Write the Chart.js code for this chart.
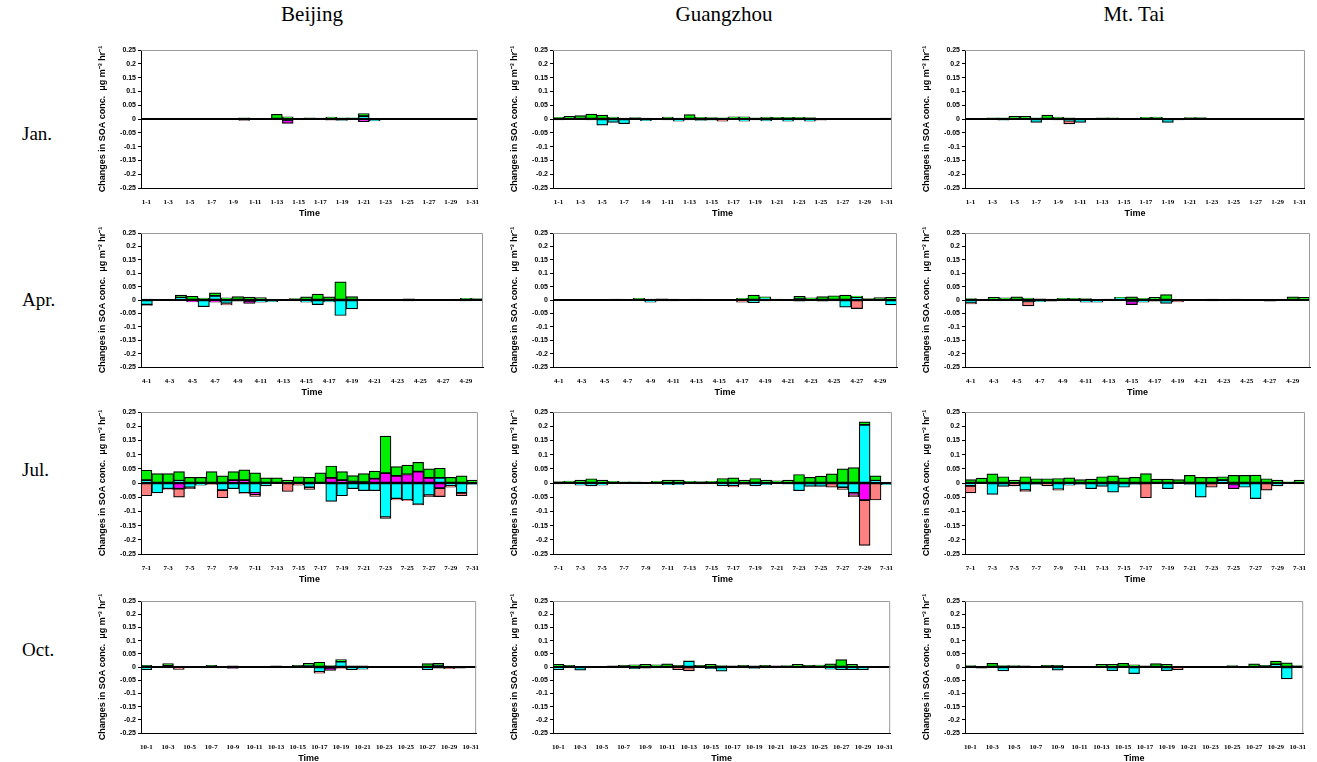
<!DOCTYPE html>
<html>
<head>
<meta charset="utf-8">
<script src="https://cdn.jsdelivr.net/npm/chart.js@4"></script>
<style>
  body { margin: 0; background: #fff; width: 1317px; height: 762px; position: relative; overflow: hidden; }
  canvas { position: absolute; }
  .lbl { position: absolute; font-family: "Liberation Serif", serif; color: #000; white-space: nowrap; }
  .col { font-size: 21px; transform: translateX(-50%); top: 2px; }
  .row { font-size: 19px; left: 22px; }
</style>
</head>
<body>
<div class="lbl col" style="left:312px">Beijing</div>
<div class="lbl col" style="left:724px">Guangzhou</div>
<div class="lbl col" style="left:1134px">Mt. Tai</div>
<div class="lbl row" style="top:123px">Jan.</div>
<div class="lbl row" style="top:289px">Apr.</div>
<div class="lbl row" style="top:459px">Jul.</div>
<div class="lbl row" style="top:639px">Oct.</div>

<script>
// day labels
const janDays = ['1-1','1-2','1-3','1-4','1-5','1-6','1-7','1-8','1-9','1-10','1-11','1-12','1-13','1-14','1-15','1-16','1-17','1-18','1-19','1-20','1-21','1-22','1-23','1-24','1-25','1-26','1-27','1-28','1-29','1-30','1-31'];
const aprDays = ['4-1','4-2','4-3','4-4','4-5','4-6','4-7','4-8','4-9','4-10','4-11','4-12','4-13','4-14','4-15','4-16','4-17','4-18','4-19','4-20','4-21','4-22','4-23','4-24','4-25','4-26','4-27','4-28','4-29','4-30'];
const julDays = ['7-1','7-2','7-3','7-4','7-5','7-6','7-7','7-8','7-9','7-10','7-11','7-12','7-13','7-14','7-15','7-16','7-17','7-18','7-19','7-20','7-21','7-22','7-23','7-24','7-25','7-26','7-27','7-28','7-29','7-30','7-31'];
const octDays = ['10-1','10-2','10-3','10-4','10-5','10-6','10-7','10-8','10-9','10-10','10-11','10-12','10-13','10-14','10-15','10-16','10-17','10-18','10-19','10-20','10-21','10-22','10-23','10-24','10-25','10-26','10-27','10-28','10-29','10-30','10-31'];

// Beijing
const bjJanGreen   = [0.002,0.001,0.002,0.002,0.002,0.001,0.002,0.002,0.002,0.004,0.001,0.002,0.017,0.008,0.002,0.004,0.003,0.007,0.004,0.004,0.010,0.002,0.001,0.001,0.002,0.002,0.002,0.001,0.001,0.001,0.001];
const bjJanCyan    = [0,0,0,0,0,0,0,0,0,-0.002,0,0,0,-0.004,-0.002,0,0,-0.002,-0.005,0,0.010,-0.007,0,0,0,0,0,0,0,0,0];
const bjJanMagenta = [0,0,0,0,0,0,0,0,0,0,0,0,0,-0.012,0,0,0,0,0,0,-0.010,0,0,0,0,0,0,0,0,0,0];
const bjJanSalmon  = [0,0,0,0,0,0,0,0,0,-0.003,0,0,0,0,0,0,0,-0.002,0,0,0,0,0,0,0,0,0,0,0,0,0];

const bjAprGreen   = [0.003,0.001,0.001,0.008,0.014,0.007,0.012,0.008,0.013,0.011,0.009,0.002,0.001,0.005,0.012,0.022,0.012,0.068,0.013,0.001,0.001,0.001,0.001,0.004,0.001,0.001,0.001,0.001,0.006,0.005];
const bjAprCyan    = [-0.017,0,0,0.010,-0.003,-0.025,0.015,-0.013,-0.004,-0.003,-0.008,-0.006,0,0,-0.008,-0.017,-0.007,-0.058,-0.033,0,0,0,0,-0.003,0,0,0,0,-0.003,-0.002];
const bjAprMagenta = [0,0,0,0,-0.004,0,-0.008,0,0,-0.010,0,0,0,0,0,0,0,0,0,0,0,0,0,0,0,0,0,0,0,0];
const bjAprSalmon  = [-0.003,0,0,0,0,0,0,-0.005,0,0,0,0,0,0,0,0,0,0,0,0,0,0,0,0,0,0,0,0,0,0];

const bjJulGreen   = [0.035,0.033,0.033,0.032,0.020,0.020,0.040,0.025,0.030,0.036,0.036,0.018,0.018,0.010,0.022,0.020,0.036,0.042,0.030,0.021,0.030,0.027,0.130,0.033,0.033,0.033,0.032,0.034,0.020,0.025,0.010];
const bjJulCyan    = [0.010,-0.035,-0.020,0.008,-0.015,-0.008,-0.003,-0.025,-0.020,-0.035,-0.035,-0.010,0,0,-0.003,-0.015,-0.003,-0.065,-0.045,-0.020,-0.027,-0.027,-0.120,-0.055,-0.060,-0.075,-0.043,0.018,-0.010,-0.035,-0.005];
const bjJulMagenta = [0,0,0,-0.020,0,0,0,0,0.010,0.010,-0.005,0,0,0,0,0,0,0.018,0.010,0.005,0.003,0.015,0.035,0.025,0.030,0.040,0.018,-0.018,0,0,0];
const bjJulSalmon  = [-0.045,0,-0.003,-0.030,-0.005,0,-0.002,-0.027,0,-0.002,-0.007,0,0,-0.030,-0.005,-0.008,0,0,0,0,0,0,-0.005,-0.005,-0.002,-0.002,-0.005,-0.030,-0.005,-0.010,0];

const bjOctGreen   = [0.006,0.003,0.009,0.001,0.001,0.002,0.006,0.001,0.004,0.002,0.001,0.002,0.004,0.002,0.006,0.008,0.018,0.005,0.008,0.004,0.004,0.001,0.001,0.001,0.001,0.001,0.013,0.009,0.003,0.003,0.002];
const bjOctCyan    = [-0.010,0,0.004,-0.003,0,0,0,0,-0.002,0,0,0,0,0,0,0.006,-0.018,-0.003,0.020,-0.010,-0.008,0,0,0,0,0,-0.010,0.005,-0.002,-0.004,0];
const bjOctMagenta = [0,0,0,0,0,0,0,0,-0.003,0,0,0,0,0,0,0,0,-0.010,-0.003,0,0,0,0,0,0,0,0,-0.004,0,0,0];
const bjOctSalmon  = [0,0,0,-0.006,0,0,-0.002,0,0,0,0,0,-0.002,0,0,0,-0.005,0,-0.002,0,0,0,0,0,0,0,0,0,-0.004,0,0];

// Guangzhou
const gzJanGreen   = [0.006,0.010,0.012,0.018,0.014,0.007,0.003,0.005,0.003,0.002,0.007,0.003,0.016,0.006,0.005,0.004,0.008,0.008,0.004,0.007,0.006,0.006,0.006,0.005,0.002,0.001,0.001,0.001,0.001,0.001,0.003];
const gzJanCyan    = [-0.003,0,0,-0.003,-0.022,-0.012,-0.017,0,-0.006,0,-0.003,-0.008,-0.003,-0.005,-0.004,0,0,-0.008,-0.003,-0.007,-0.002,-0.008,-0.003,-0.008,0,0,0,0,0,0,0];
const gzJanMagenta = [0,0,0,0,0,0,0,0,0,0,0,0,0,0,0,0,0,0,0,0,0,0,0,0,0,0,0,0,0,0,0];
const gzJanSalmon  = [0,0,0,0,0,0,0,0,0,0,0,0,0,0,0,-0.008,0,0,0,0,0,0,0,0,-0.004,0,0,-0.002,0,0,0];

const gzAprGreen   = [0.001,0.001,0.001,0.001,0.002,0.003,0.002,0.006,0.003,0.004,0.003,0.001,0.003,0.001,0.001,0.002,0.006,0.018,0.004,0.003,0.002,0.009,0.008,0.013,0.016,0.018,0.005,0.005,0.009,0.010];
const gzAprCyan    = [0,0,0,0,0,0,0,0,-0.008,-0.003,-0.003,0,0,0,0,0,0,-0.010,0.008,0,0,0.005,0,-0.004,-0.003,-0.027,0.010,0,0,-0.018];
const gzAprMagenta = [0,0,0,0,0,0,0,0,0,0,0,0,0,0,0,0,0,0,0,0,0,0,0,0,0,0,0,0,0,0];
const gzAprSalmon  = [0,0,0,0,0,0,0,0,0,0,0,0,0,0,0,0,-0.008,0,-0.003,0,0,-0.004,0,0,0,0,-0.032,0,0,0];

const gzJulGreen   = [0.005,0.007,0.010,0.015,0.010,0.006,0.004,0.004,0.003,0.006,0.010,0.010,0.006,0.005,0.006,0.016,0.018,0.010,0.016,0.010,0.008,0.010,0.030,0.020,0.024,0.032,0.050,0.054,0.010,0.017,0.002];
const gzJulCyan    = [-0.003,0,-0.008,-0.010,-0.008,0,0,0,0,0,-0.006,-0.006,0,0,0,-0.010,-0.010,0,-0.010,-0.006,0,-0.004,-0.027,-0.012,-0.012,0,-0.015,-0.035,0.205,0.008,-0.006];
const gzJulMagenta = [0,0,0,0,0,0,0,0,0,0,0,0,0,0,0,0,0,0,0,0,0,0,0,0,0,0,0,-0.008,-0.060,0,0];
const gzJulSalmon  = [0,0,0,0,0,0,0,0,0,0,0,0,0,-0.003,0,0,-0.004,-0.005,0,0,0,0,0,0,0,-0.015,-0.008,-0.005,-0.160,-0.060,0];

const gzOctGreen   = [0.010,0.006,0.001,0.002,0.001,0.004,0.006,0.008,0.010,0.008,0.012,0.006,0.001,0.006,0.010,0.005,0.004,0.006,0.004,0.006,0.004,0.005,0.010,0.006,0.007,0.012,0.028,0.010,0.002,0.001,0.003];
const gzOctCyan    = [-0.010,-0.003,-0.012,0,0,0,0,-0.006,-0.004,0,0,0,0.022,0,-0.006,-0.016,-0.002,0,-0.005,0,0,0,0,0,0,-0.008,-0.010,-0.010,-0.010,-0.003,0];
const gzOctMagenta = [0,0,0,0,0,0,0,0,0,0,0,0,0,0,0,0,0,0,0,0,0,0,0,0,0,0,0,0,0,0,0];
const gzOctSalmon  = [0,0,0,0,0,0,0,0,0,-0.003,0,-0.010,-0.015,0,0,0,0,0,0,0,0,0,0,0,0,0,0,0,0,0,0];

// Mt. Tai
const mtJanGreen   = [0.001,0.002,0.004,0.004,0.010,0.010,0.004,0.014,0.007,0.004,0.001,0.001,0.004,0.004,0.001,0.002,0.006,0.007,0.001,0.002,0.005,0.005,0.002,0.001,0.001,0.001,0.001,0.001,0.001,0.001,0.001];
const mtJanCyan    = [0,0,0,-0.004,0,0,-0.012,0,-0.003,-0.006,-0.012,0,0,0,0,0,0,0,-0.012,-0.003,0,-0.002,0,0,-0.002,0,-0.002,-0.002,-0.002,0,0];
const mtJanMagenta = [0,0,0,0,0,0,0,0,0,0,0,0,0,0,0,0,0,0,0,0,0,0,0,0,0,0,0,0,0,0,0];
const mtJanSalmon  = [0,0,0,0,0,0,0,0,0,-0.012,0,0,0,0,0,0,0,0,0,0,0,0,0,0,0,0,0,0,0,0,0];

const mtAprGreen   = [0.005,0.002,0.010,0.008,0.012,0.007,0.004,0.003,0.006,0.006,0.005,0.001,0.003,0.002,0.012,0.006,0.010,0.020,0.001,0.001,0.001,0.003,0.001,0.003,0.001,0.002,0.001,0.001,0.012,0.010];
const mtAprCyan    = [-0.012,0,0,0,0,-0.005,-0.006,-0.004,0,0,-0.008,-0.008,0,0.008,-0.005,-0.008,-0.004,-0.013,0,0,0,-0.003,0,-0.002,0,0,-0.004,0,0,0];
const mtAprMagenta = [0,0,0,0,0,0,0,0,0,0,0,0,0,0,-0.012,0,0,0,0,0,0,0,0,0,0,0,0,0,0,0];
const mtAprSalmon  = [-0.003,0,0,0,0,-0.017,0,0,0,0,0,0,0,0,0,0,0,0,-0.007,0,0,0,0,0,0,0,0,0,0,0];

const mtJulGreen   = [0.012,0.017,0.032,0.022,0.010,0.022,0.015,0.015,0.016,0.018,0.012,0.014,0.022,0.022,0.018,0.020,0.033,0.014,0.014,0.012,0.027,0.020,0.020,0.012,0.027,0.027,0.028,0.015,0.010,0.004,0.010];
const mtJulCyan    = [-0.010,0,-0.040,-0.012,0,-0.025,-0.005,0,-0.022,-0.008,-0.005,-0.020,-0.012,-0.032,-0.015,-0.005,0,-0.003,-0.020,0,-0.005,-0.050,0,0.010,-0.005,-0.015,-0.055,0,-0.010,0,-0.003];
const mtJulMagenta = [0,0,0,0,0,0,0,0,0,0,0,0,0,0.003,0,0,0,0,0,0,0,0,0,0,-0.015,0,0,0,0,0,0];
const mtJulSalmon  = [-0.025,0,0,0,-0.010,-0.005,0,-0.010,-0.003,0,0,0,0,0,0,0,-0.052,0,0,0,0,0,-0.015,0,0,0,0,-0.025,0,0,0];

const mtOctGreen   = [0.005,0.003,0.014,0.005,0.005,0.004,0.003,0.006,0.006,0.002,0.001,0.003,0.010,0.010,0.014,0.008,0.004,0.013,0.010,0.001,0.001,0.001,0.001,0.001,0.005,0.001,0.012,0.006,0.012,0.016,0.005];
const mtOctCyan    = [-0.002,-0.004,0,-0.015,0,0,0,-0.003,-0.012,-0.003,0,0,0,-0.014,0,-0.025,0,0,-0.014,0,0,0,0,0,-0.003,-0.003,0,-0.003,0.010,-0.045,-0.002];
const mtOctMagenta = [0,0,0,0,0,0,0,0,0,0,0,0,0,0,0,0,0,0,0,0,0,0,0,0,0,0,0,0,0,0,0];
const mtOctSalmon  = [0,0,0,0,0,0,0,0,0,0,0,0,0,0,0,0,0,0,0,-0.010,0,0,0,0,0,0,0,0,0,0,0];

// layout of the grid of small plots
const colLeft  = [141, 553, 965];
const colWidth = [342, 344, 345];
const rowTop    = [50, 233, 412, 601];
const rowHeight = [138, 134, 142, 132];
const Y_AXIS_W = 45, X_AXIS_H = 34, PAD_TOP = 10, PAD_RIGHT = 6;

const panels = [
  [0, 0, janDays, bjJanCyan, bjJanMagenta, bjJanSalmon, bjJanGreen],
  [0, 1, aprDays, bjAprCyan, bjAprMagenta, bjAprSalmon, bjAprGreen],
  [0, 2, julDays, bjJulCyan, bjJulMagenta, bjJulSalmon, bjJulGreen],
  [0, 3, octDays, bjOctCyan, bjOctMagenta, bjOctSalmon, bjOctGreen],
  [1, 0, janDays, gzJanCyan, gzJanMagenta, gzJanSalmon, gzJanGreen],
  [1, 1, aprDays, gzAprCyan, gzAprMagenta, gzAprSalmon, gzAprGreen],
  [1, 2, julDays, gzJulCyan, gzJulMagenta, gzJulSalmon, gzJulGreen],
  [1, 3, octDays, gzOctCyan, gzOctMagenta, gzOctSalmon, gzOctGreen],
  [2, 0, janDays, mtJanCyan, mtJanMagenta, mtJanSalmon, mtJanGreen],
  [2, 1, aprDays, mtAprCyan, mtAprMagenta, mtAprSalmon, mtAprGreen],
  [2, 2, julDays, mtJulCyan, mtJulMagenta, mtJulSalmon, mtJulGreen],
  [2, 3, octDays, mtOctCyan, mtOctMagenta, mtOctSalmon, mtOctGreen]
];

// grey top/right frame, and the heavy zero line drawn over the bars
const framePlugin = {
  id: 'frame',
  afterDatasetsDraw(chart) {
    const a = chart.chartArea, ctx = chart.ctx;
    const y0 = Math.round(chart.scales.y.getPixelForValue(0));
    ctx.save();
    ctx.strokeStyle = '#000';
    ctx.lineWidth = 2;
    ctx.beginPath();
    ctx.moveTo(a.left, y0);
    ctx.lineTo(a.right, y0);
    ctx.stroke();
    ctx.strokeStyle = '#9a9a9a';
    ctx.lineWidth = 1;
    ctx.beginPath();
    ctx.moveTo(a.left, a.top + 0.5);
    ctx.lineTo(a.right - 0.5, a.top + 0.5);
    ctx.lineTo(a.right - 0.5, a.bottom);
    ctx.stroke();
    ctx.restore();
  }
};

function makeSet(label, data, color) {
  return {
    label: label,
    data: data,
    backgroundColor: color,
    borderColor: '#000',
    borderWidth: 1.2,
    borderSkipped: false,
    barPercentage: 1,
    categoryPercentage: 1,
    stack: 's'
  };
}

panels.forEach(p => {
  const [col, row, days, cyan, magenta, salmon, green] = p;
  const canvas = document.createElement('canvas');
  const w = colWidth[col] + Y_AXIS_W + PAD_RIGHT;
  const h = rowHeight[row] + PAD_TOP + X_AXIS_H;
  canvas.width = w;
  canvas.height = h;
  canvas.style.left = (colLeft[col] - Y_AXIS_W) + 'px';
  canvas.style.top = (rowTop[row] - PAD_TOP) + 'px';
  canvas.style.width = w + 'px';
  canvas.style.height = h + 'px';
  document.body.appendChild(canvas);

  new Chart(canvas, {
    type: 'bar',
    data: {
      labels: days,
      datasets: [
        makeSet('cyan', cyan, '#00ffff'),
        makeSet('magenta', magenta, '#ff00ff'),
        makeSet('salmon', salmon, '#ff8080'),
        makeSet('green', green, '#00f000')
      ]
    },
    options: {
      responsive: false,
      animation: false,
      layout: { padding: { top: PAD_TOP, right: PAD_RIGHT, left: 0, bottom: 0 } },
      plugins: { legend: { display: false }, tooltip: { enabled: false } },
      scales: {
        x: {
          stacked: true,
          afterFit(scale) { scale.height = X_AXIS_H; },
          grid: { display: false, drawTicks: false },
          border: { display: true, color: '#000', width: 1 },
          ticks: {
            autoSkip: false,
            maxRotation: 0,
            minRotation: 0,
            padding: 10,
            color: '#000',
            font: { family: 'Liberation Serif', size: 7, weight: 'bold' },
            callback: function(v, i) { return i % 2 === 0 ? this.getLabelForValue(v) : ''; }
          },
          title: {
            display: true,
            text: 'Time',
            color: '#000',
            padding: { top: 0, bottom: 3 },
            font: { family: 'Liberation Sans', size: 9, weight: 'bold' }
          }
        },
        y: {
          stacked: true,
          min: -0.25,
          max: 0.25,
          afterFit(scale) { scale.width = Y_AXIS_W; },
          grid: {
            color: 'rgba(0,0,0,0)',
            tickColor: '#000',
            tickLength: 3
          },
          border: { display: true, color: '#000', width: 1 },
          ticks: {
            stepSize: 0.05,
            padding: 2,
            color: '#000',
            font: { family: 'Liberation Sans', size: 7, weight: 'bold' },
            callback: v => String(+v.toFixed(2))
          },
          title: {
            display: true,
            text: 'Changes in SOA conc.  \u03bcg m\u207b\u00b3 hr\u207b\u00b9',
            color: '#000',
            padding: { top: 1, bottom: 1 },
            font: { family: 'Liberation Sans', size: 9, weight: 'bold' }
          }
        }
      }
    },
    plugins: [framePlugin]
  });
});
</script>
</body>
</html>
